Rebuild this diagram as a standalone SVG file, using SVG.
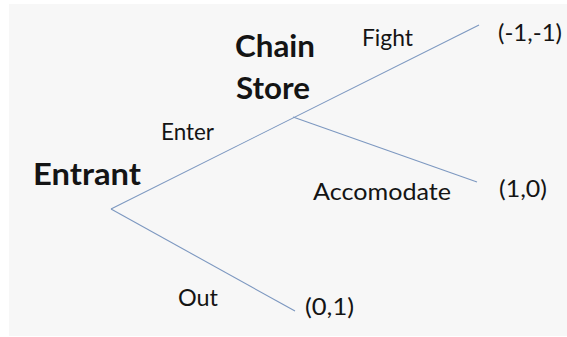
<svg xmlns="http://www.w3.org/2000/svg" width="567" height="337" viewBox="0 0 567 337">
<style>
.t{font-family:Lato,"Open Sans","Liberation Sans",sans-serif;fill:#141414;font-size:23px}
.b{font-weight:bold;font-size:30px}
.e{stroke:#7d98c0;stroke-width:1.1;fill:none}
</style>
<rect x="0" y="0" width="567" height="337" fill="#ffffff"/>
<rect x="9" y="4" width="558" height="332" fill="#f7f7f7"/>
<g id="connectors">
<line class="e" x1="111" y1="209" x2="479" y2="25"/>
<line class="e" x1="293" y1="117" x2="477" y2="182"/>
<line class="e" x1="111" y1="209" x2="295" y2="311"/>
</g>
<g id="entrant"><text class="t b" x="33" y="185" textLength="108" lengthAdjust="spacingAndGlyphs">Entrant</text></g>
<g id="chainstore">
<text class="t b" x="235" y="57" textLength="80" lengthAdjust="spacingAndGlyphs">Chain</text>
<text class="t b" x="236" y="99" textLength="74" lengthAdjust="spacingAndGlyphs">Store</text>
</g>
<g id="labels">
<text class="t" x="161" y="140" textLength="53" lengthAdjust="spacingAndGlyphs">Enter</text>
<text class="t" x="362" y="46" textLength="51" lengthAdjust="spacingAndGlyphs">Fight</text>
<text class="t" x="313" y="200" textLength="138" lengthAdjust="spacingAndGlyphs">Accomodate</text>
<text class="t" x="178" y="306" textLength="40" lengthAdjust="spacingAndGlyphs">Out</text>
</g>
<g id="payoff1"><text class="t" x="498" y="41" textLength="64" lengthAdjust="spacingAndGlyphs">(-1,-1)</text></g>
<g id="payoff2"><text class="t" x="499" y="197" textLength="48" lengthAdjust="spacingAndGlyphs">(1,0)</text></g>
<g id="payoff3"><text class="t" x="305" y="315" textLength="49" lengthAdjust="spacingAndGlyphs">(0,1)</text></g>
</svg>
